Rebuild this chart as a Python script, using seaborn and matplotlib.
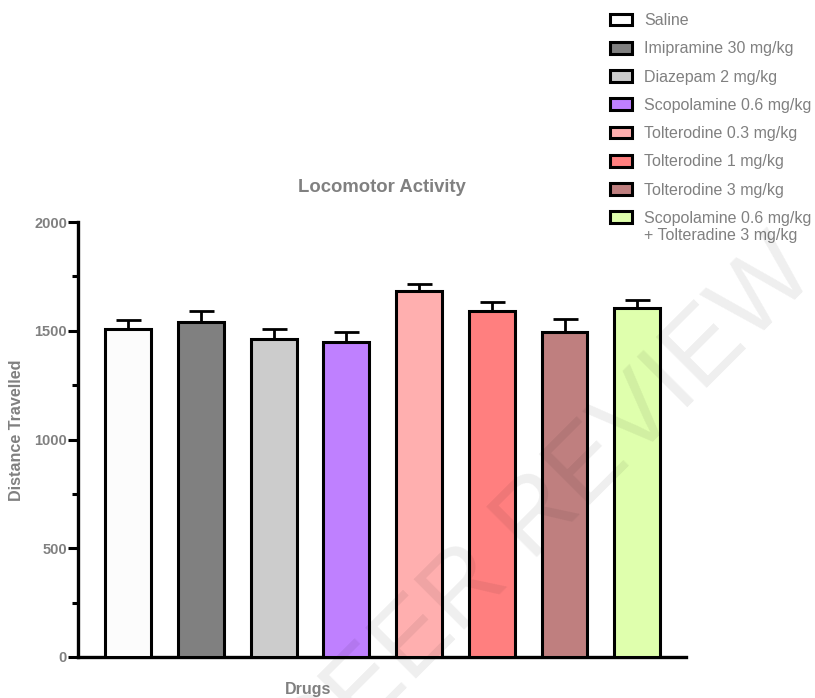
import matplotlib
matplotlib.use("Agg")
import matplotlib.pyplot as plt
from matplotlib.patches import Patch
from matplotlib.ticker import MultipleLocator
import numpy as np
import pandas as pd
import seaborn as sns

# Group means and SEM of distance travelled
drugs = [
    "Saline",
    "Imipramine 30 mg/kg",
    "Diazepam 2 mg/kg",
    "Scopolamine 0.6 mg/kg",
    "Tolterodine 0.3 mg/kg",
    "Tolterodine 1 mg/kg",
    "Tolterodine 3 mg/kg",
    "Scopolamine 0.6 mg/kg\n+ Tolteradine 3 mg/kg",
]
means = [1507, 1542, 1462, 1450, 1684, 1592, 1496, 1603]
sem = [42, 49, 45, 43, 31, 39, 57, 38]
colors = ["#FCFCFC", "#808080", "#CCCCCC", "#BF80FF",
          "#FFAFAF", "#FF7F7F", "#BF7F7F", "#DFFFAD"]
y_ticks = [0, 500, 1000, 1500, 2000]

sns.set_style("ticks")
plt.rcParams["font.family"] = ["Liberation Sans", "DejaVu Sans"]
GRAY = "#808080"

df = pd.DataFrame({"drug": drugs, "mean": means, "sem": sem})

fig = plt.figure(figsize=(8.15, 6.98), dpi=100)
ax = fig.add_axes([78 / 815, 1 - 657 / 698, 608 / 815, 435 / 698])

sns.barplot(data=df, x="drug", y="mean", hue="drug", palette=colors,
            saturation=1, legend=False, width=0.63, edgecolor="black",
            linewidth=2.2, ax=ax, zorder=3)
ax.errorbar(np.arange(len(drugs)), df["mean"],
            yerr=[np.zeros(len(drugs)), df["sem"]], fmt="none",
            ecolor="black", elinewidth=2, capsize=9, capthick=2, zorder=2)

ax.set_xlim(-0.69, len(drugs) - 1 + 0.67)
ax.set_ylim(0, 2000)
ax.set_yticks(y_ticks)
ax.yaxis.set_minor_locator(MultipleLocator(250))
ax.tick_params(axis="x", bottom=False, labelbottom=False)
ax.tick_params(axis="y", which="major", length=7, width=2.2, color="black",
               labelcolor=GRAY, labelsize=10.5, pad=1)
ax.tick_params(axis="y", which="minor", length=4, width=2.2, color="black")
for lbl in ax.get_yticklabels():
    lbl.set_fontweight("bold")
for side in ("top", "right"):
    ax.spines[side].set_visible(False)
for side in ("left", "bottom"):
    ax.spines[side].set_linewidth(2.4)
    ax.spines[side].set_color("black")

ax.set_xlabel("Drugs", fontsize=11.5, fontweight="bold", color=GRAY)
ax.xaxis.set_label_coords(0.378, -0.058)
ax.set_ylabel("Distance Travelled", fontsize=11.6, fontweight="bold", color=GRAY)
ax.yaxis.set_label_coords(-0.089, 0.522)
ax.text(0.5, 1.08, "Locomotor Activity", transform=ax.transAxes,
        ha="center", va="center", fontsize=13.3, fontweight="bold", color=GRAY)

# Legend: one row per group; the two-line last label keeps its box on line one
first_lines = [d.split("\n")[0] for d in drugs]
handles = [Patch(facecolor=c, edgecolor="black", linewidth=2.2) for c in colors]
leg = fig.legend(handles, first_lines, loc="upper left",
                 bbox_to_anchor=(610 / 815, 1 - 13 / 698), frameon=False,
                 fontsize=11.5, handlelength=1.4, handleheight=0.75,
                 handletextpad=0.75, labelspacing=0.83, borderpad=0,
                 borderaxespad=0)
for t in leg.get_texts():
    t.set_color(GRAY)

fig.canvas.draw()
last = leg.get_texts()[-1].get_window_extent()
fig.text(last.x0 / fig.bbox.width, (last.y0 - 2) / fig.bbox.height,
         drugs[-1].split("\n")[1], ha="left", va="top",
         fontsize=11.5, color=GRAY)

# Diagonal watermark across the lower right
fig.text(548 / 815, 1 - 510 / 698, "PEER REVIEW", rotation=45,
         ha="center", va="center", fontsize=74, fontweight="normal",
         family=["Liberation Sans", "DejaVu Sans"], color="black",
         alpha=0.065, zorder=10)

fig.savefig("out.png", dpi=100)
